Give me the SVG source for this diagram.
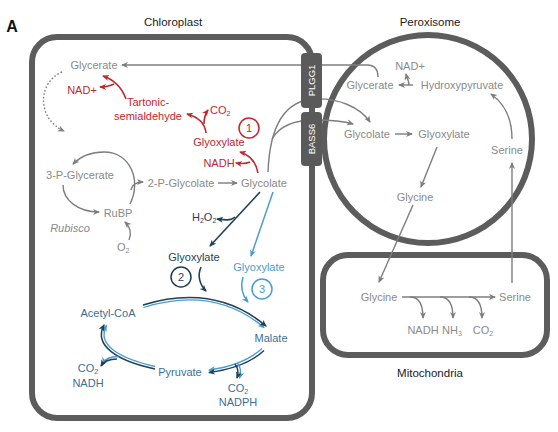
<svg xmlns="http://www.w3.org/2000/svg" width="558" height="432" viewBox="0 0 558 432">
<style>
text{font-family:"Liberation Sans",Arial,sans-serif;font-size:11px;text-anchor:middle}
.g{fill:#8a8a8a}
.r{fill:#c4262e}
.n{fill:#1f4157}
.lb{fill:#4a9ccf}
.cb{fill:#3b6f96}
.k{fill:#1a1a1a;font-size:11.5px}
.wall{fill:none;stroke:#5c5c5c;stroke-width:6}
.lg{fill:none;stroke:#7d7d7d;stroke-width:1.4}
.lr{fill:none;stroke:#c4262e;stroke-width:1.6}
.ln{fill:none;stroke:#1f4157;stroke-width:1.6}
.llb{fill:none;stroke:#4a9ccf;stroke-width:1.5}
.cyn{fill:none;stroke:#1f4157;stroke-width:1.5}
.cyl{fill:none;stroke:#4a9ccf;stroke-width:1.3}
.sub{font-size:7px}
.tp{fill:#5a5a5a}
.tpt{fill:#ffffff;font-size:9.5px}
</style>
<defs>
<marker id="ag" markerUnits="userSpaceOnUse" markerWidth="8" markerHeight="8" refX="6" refY="3.5" orient="auto"><path d="M0,0.5 L7,3.5 L0,6.5 L2,3.5 z" fill="#7d7d7d"/></marker>
<marker id="ar" markerUnits="userSpaceOnUse" markerWidth="8" markerHeight="8" refX="6" refY="3.5" orient="auto"><path d="M0,0.5 L7,3.5 L0,6.5 L2,3.5 z" fill="#c4262e"/></marker>
<marker id="an" markerUnits="userSpaceOnUse" markerWidth="8" markerHeight="8" refX="6" refY="3.5" orient="auto"><path d="M0,0.5 L7,3.5 L0,6.5 L2,3.5 z" fill="#1f4157"/></marker>
<marker id="al" markerUnits="userSpaceOnUse" markerWidth="8" markerHeight="8" refX="6" refY="3.5" orient="auto"><path d="M0,0.5 L7,3.5 L0,6.5 L2,3.5 z" fill="#4a9ccf"/></marker>
</defs>
<rect width="558" height="432" fill="#ffffff"/>
<text x="12" y="32" style="font-size:16px;font-weight:bold;fill:#111">A</text>

<g id="chloroplast">
<rect class="wall" x="32" y="37" width="280" height="381" rx="25"/>
<text class="k" x="173" y="26">Chloroplast</text>
</g>
<g id="peroxisome">
<circle class="wall" cx="428" cy="139" r="104"/>
<text class="k" x="430" y="26">Peroxisome</text>
</g>
<g id="mitochondria">
<rect class="wall" x="323" y="255" width="224" height="100" rx="25"/>
<text class="k" x="430" y="377">Mitochondria</text>
</g>

<g id="connectors">
<!-- gray chloroplast / peroxisome -->
<path class="lg" d="M378,77 C378,69 375,65 367,65 L122,65" marker-end="url(#ag)"/>
<path class="lg" d="M62,72 C38,82 36,118 64,131" stroke-dasharray="1.6 2" marker-end="url(#ag)"/>
<path class="lg" d="M218,183 L237,183" marker-end="url(#ag)"/>
<path class="lg" d="M130,204 C142,180 130,152 104,152 C90,152 80,157 73,164" marker-end="url(#ag)"/>
<path class="lg" d="M63,185 C63,200 78,212 99,212" marker-end="url(#ag)"/>
<path class="lg" d="M131,190 C132,185 136,182 143,182" marker-end="url(#ag)"/>
<path class="lg" d="M129,240 C132,233 130,227 125,222" marker-end="url(#ag)"/>
<path class="lg" d="M268,172 C270,120 288,100 315,99 C338,98 360,107 370,122" marker-end="url(#ag)"/>
<path class="lg" d="M272,139 C280,125 295,120 315,120 C330,120 343,121 353,124" marker-end="url(#ag)"/>
<path class="lg" d="M413,85 L399,85" marker-end="url(#ag)"/>
<path class="lg" d="M409,85 C409,81 407,78 406,74" marker-end="url(#ag)"/>
<path class="lg" d="M395,134 L412,134" marker-end="url(#ag)"/>
<path class="lg" d="M437,147 L421,187" marker-end="url(#ag)"/>
<path class="lg" d="M512,139 C512,118 505,104 491,94" marker-end="url(#ag)"/>
<path class="lg" d="M512,283 L512,163" marker-end="url(#ag)"/>
<path class="lg" d="M413,205 L379,282" marker-end="url(#ag)"/>
<path class="lg" d="M402,297 L495,297" marker-end="url(#ag)"/>
<path class="lg" d="M410,297 C418,297 423,303 423,318" marker-end="url(#ag)"/>
<path class="lg" d="M440,297 C448,297 453,303 453,318" marker-end="url(#ag)"/>
<path class="lg" d="M469,297 C477,297 482,303 482,318" marker-end="url(#ag)"/>
<!-- red pathway 1 -->
<path class="lr" d="M258,173 C256,162 250,155 240,152" marker-end="url(#ar)"/>
<path class="lr" d="M250,162 C246,164 242,164 236,163" marker-end="url(#ar)"/>
<path class="lr" d="M206,133 C205,123 198,117 187,114" marker-end="url(#ar)"/>
<path class="lr" d="M204,124 C204,118 205,114 208,110" marker-end="url(#ar)"/>
<path class="lr" d="M126,99 C122,88 115,80 103,76" marker-end="url(#ar)"/>
<path class="lr" d="M114,84 C110,86 106,87 100,87" marker-end="url(#ar)"/>
<!-- navy pathway 2 -->
<path class="ln" d="M260,192 L210,246" marker-end="url(#an)"/>
<path class="ln" d="M235,217 C231,221 225,220 217,219" marker-end="url(#an)"/>
<path class="ln" d="M201,267 C197,276 200,285 206,291" marker-end="url(#an)"/>
<!-- light blue pathway 3 -->
<path class="llb" d="M273,192 L251,256" marker-end="url(#al)"/>
<path class="llb" d="M243,277 C240,287 242,295 248,302" marker-end="url(#al)"/>
<!-- cycle, double lines -->
<path class="cyl" d="M143.5,307.5 Q214,285.5 264,327.5" marker-end="url(#al)"/>
<path class="cyn" d="M143,305 Q215,283 266,326" marker-end="url(#an)"/>
<path class="cyl" d="M262,348.5 Q244,365 209,370" marker-end="url(#al)"/>
<path class="cyn" d="M264,350.5 Q246,367.5 209,372.5" marker-end="url(#an)"/>
<path class="cyl" d="M237.5,363 C240.5,367 241.5,372 239.5,378" marker-end="url(#al)"/>
<path class="cyn" d="M235,364 C238,368 239,372 237,378" marker-end="url(#an)"/>
<path class="cyl" d="M155,366.5 C120.5,358.5 96,345.5 106.5,325.5" marker-end="url(#al)"/>
<path class="cyn" d="M155,369 C118,361 93,346 104,325" marker-end="url(#an)"/>
<path class="cyl" d="M118.5,356.5 C111,356.5 105,358.5 103,363.5" marker-end="url(#al)"/>
<path class="cyn" d="M117,359 C110,359 104,361 101,366" marker-end="url(#an)"/>
</g>

<g id="transporters">
<g id="PLGG1"><rect class="tp" x="301" y="53" width="21" height="55" rx="4"/><text class="tpt" transform="translate(314.5,80.5) rotate(-90)">PLGG1</text></g>
<g id="BASS6"><rect class="tp" x="301" y="112" width="21" height="54" rx="4"/><text class="tpt" transform="translate(314.5,139) rotate(-90)">BASS6</text></g>
</g>

<g id="chloroplast-nodes">
<g id="c-glycerate"><text class="g" x="94" y="69">Glycerate</text></g>
<g id="c-nadplus"><text class="r" x="82" y="94">NAD+</text></g>
<g id="c-tartonic"><text class="r" x="148" y="106">Tartonic-</text><text class="r" x="148" y="120">semialdehyde</text></g>
<g id="c-co2-red"><text class="r" x="210" y="114" style="text-anchor:start">CO<tspan class="sub" dy="2">2</tspan></text></g>
<g id="c-step1"><circle cx="249" cy="128" r="10" fill="none" stroke="#c4262e" stroke-width="1.5"/><text class="r" x="249" y="132">1</text></g>
<g id="c-glyoxylate-red"><text class="r" x="219" y="146">Glyoxylate</text></g>
<g id="c-nadh-red"><text class="r" x="219" y="167">NADH</text></g>
<g id="c-3pg"><text class="g" x="80" y="179">3-P-Glycerate</text></g>
<g id="c-2pg"><text class="g" x="181" y="187">2-P-Glycolate</text></g>
<g id="c-glycolate"><text class="g" x="264" y="187">Glycolate</text></g>
<g id="c-rubp"><text class="g" x="118" y="217">RuBP</text></g>
<g id="c-rubisco"><text class="g" x="70" y="232" style="font-style:italic">Rubisco</text></g>
<g id="c-o2"><text class="g" x="117" y="251" style="text-anchor:start">O<tspan class="sub" dy="2">2</tspan></text></g>
<g id="c-h2o2"><text class="n" x="192" y="221" style="text-anchor:start">H<tspan class="sub" dy="2">2</tspan><tspan dy="-2">O</tspan><tspan class="sub" dy="2">2</tspan></text></g>
<g id="c-glyoxylate-2"><text class="n" x="194" y="261">Glyoxylate</text></g>
<g id="c-step2"><circle cx="181" cy="277" r="10" fill="none" stroke="#1f4157" stroke-width="1.5"/><text class="n" x="181" y="281">2</text></g>
<g id="c-glyoxylate-3"><text class="lb" x="259" y="271">Glyoxylate</text></g>
<g id="c-step3"><circle cx="262" cy="289" r="10" fill="none" stroke="#4a9ccf" stroke-width="1.5"/><text class="lb" x="262" y="293">3</text></g>
<g id="c-acetylcoa"><text class="cb" x="108" y="317">Acetyl-CoA</text></g>
<g id="c-malate"><text class="cb" x="271" y="342">Malate</text></g>
<g id="c-pyruvate"><text class="cb" x="180" y="376">Pyruvate</text></g>
<g id="c-co2-nadh"><text class="cb" x="88" y="372">CO<tspan class="sub" dy="2">2</tspan></text><text class="cb" x="88" y="387">NADH</text></g>
<g id="c-co2-nadph"><text class="cb" x="238" y="392">CO<tspan class="sub" dy="2">2</tspan></text><text class="cb" x="238" y="406">NADPH</text></g>
</g>

<g id="peroxisome-nodes">
<g id="p-nadplus"><text class="g" x="410" y="70">NAD+</text></g>
<g id="p-glycerate"><text class="g" x="370" y="89">Glycerate</text></g>
<g id="p-hydroxypyruvate"><text class="g" x="462" y="89">Hydroxypyruvate</text></g>
<g id="p-glycolate"><text class="g" x="367" y="138">Glycolate</text></g>
<g id="p-glyoxylate"><text class="g" x="444" y="138">Glyoxylate</text></g>
<g id="p-glycine"><text class="g" x="415" y="201">Glycine</text></g>
<g id="p-serine"><text class="g" x="507" y="154">Serine</text></g>
</g>

<g id="mitochondria-nodes">
<g id="m-glycine"><text class="g" x="379" y="301">Glycine</text></g>
<g id="m-serine"><text class="g" x="515" y="301">Serine</text></g>
<g id="m-nadh"><text class="g" x="423" y="334">NADH</text></g>
<g id="m-nh3"><text class="g" x="452" y="334">NH<tspan class="sub" dy="2">3</tspan></text></g>
<g id="m-co2"><text class="g" x="483" y="334">CO<tspan class="sub" dy="2">2</tspan></text></g>
</g>
</svg>
